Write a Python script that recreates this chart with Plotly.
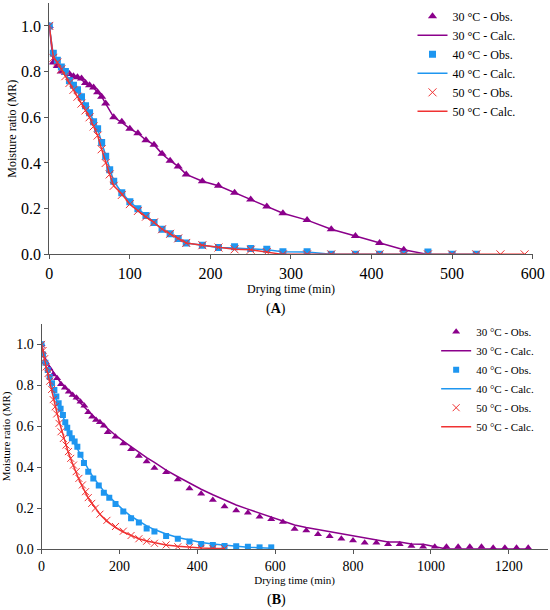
import plotly.graph_objects as go

# ---- (A) ----
t30a = [0, 5, 10, 15, 20, 25, 30, 35, 40, 45, 50, 55, 60, 65, 70, 80, 90, 100, 110, 120, 130,
        140, 150, 160, 170, 190, 210, 230, 250, 270, 290, 320, 350, 380, 410, 440, 470]
obs30a = [1.0, 0.84, 0.825, 0.80, 0.795, 0.79, 0.78, 0.775, 0.77, 0.75, 0.74, 0.73, 0.71, 0.69, 0.66,
          0.60, 0.58, 0.55, 0.53, 0.50, 0.48, 0.44, 0.41, 0.385, 0.35, 0.32, 0.30, 0.27, 0.24, 0.21,
          0.18, 0.15, 0.11, 0.08, 0.05, 0.02, 0.0]
calc30a = [1.0, 0.84, 0.825, 0.80, 0.795, 0.79, 0.78, 0.775, 0.765, 0.75, 0.74, 0.728, 0.71, 0.69, 0.66,
           0.60, 0.578, 0.55, 0.53, 0.50, 0.48, 0.44, 0.41, 0.385, 0.35, 0.32, 0.30, 0.27, 0.24, 0.21,
           0.18, 0.15, 0.11, 0.08, 0.05, 0.02, 0.0]

t40a = [0, 5, 10, 15, 20, 25, 30, 35, 40, 45, 50, 55, 60, 65, 70, 75, 80, 90, 100, 110, 120, 130,
        140, 150, 160, 170, 190, 210, 230, 250, 270, 290, 320, 350, 380, 410, 440, 470, 500, 530]
obs40a = [1.0, 0.88, 0.85, 0.82, 0.80, 0.76, 0.74, 0.72, 0.69, 0.65, 0.62, 0.58, 0.55, 0.49, 0.43, 0.37,
          0.32, 0.27, 0.23, 0.20, 0.17, 0.14, 0.11, 0.09, 0.07, 0.05, 0.04, 0.03, 0.033, 0.026, 0.022,
          0.012, 0.012, 0.0, 0.0, 0.0, 0.0, 0.01, 0.0, 0.0]
calc40a = [1.0, 0.87, 0.845, 0.815, 0.79, 0.765, 0.74, 0.715, 0.69, 0.655, 0.62, 0.585, 0.55, 0.49, 0.43,
           0.37, 0.32, 0.27, 0.23, 0.20, 0.17, 0.14, 0.11, 0.09, 0.07, 0.05, 0.04, 0.03, 0.028, 0.024,
           0.02, 0.012, 0.01, 0.0, 0.0, 0.0, 0.0, 0.0, 0.0, 0.0]

t50a = [0, 5, 10, 15, 20, 25, 30, 35, 40, 45, 50, 55, 60, 65, 70, 75, 80, 90, 100, 110, 120, 130,
        140, 150, 160, 170, 190, 210, 230, 250, 270, 290, 320, 350, 380, 410, 440, 470, 500, 530, 560, 590]
obs50a = [1.0, 0.86, 0.84, 0.81, 0.78, 0.75, 0.72, 0.69, 0.66, 0.63, 0.60, 0.56, 0.52, 0.46, 0.40, 0.35,
          0.30, 0.26, 0.22, 0.19, 0.165, 0.14, 0.11, 0.09, 0.07, 0.05, 0.04, 0.03, 0.022, 0.02, 0.01,
          0.0, 0.0, 0.0, 0.0, 0.0, 0.0, 0.0, 0.0, 0.0, 0.0, 0.0]
calc50a = [1.0, 0.865, 0.84, 0.81, 0.78, 0.75, 0.72, 0.69, 0.66, 0.63, 0.60, 0.56, 0.52, 0.46, 0.40, 0.35,
           0.30, 0.265, 0.22, 0.19, 0.163, 0.14, 0.11, 0.09, 0.07, 0.05, 0.04, 0.03, 0.022, 0.02, 0.01,
           0.0, 0.0, 0.0, 0.0, 0.0, 0.0, 0.0, 0.0, 0.0, 0.0, 0.0]

# ---- (B) ----
t30b = [0, 10, 20, 30, 40, 50, 60, 70, 80, 90, 100, 110, 120, 130, 140, 150, 160, 170,
        190, 210, 230, 250, 270, 290, 320, 350, 380, 410, 440, 470, 500, 530, 560, 590, 620, 650,
        680, 710, 740, 770, 800, 830, 860, 890, 920, 950, 980, 1010, 1040, 1070, 1100, 1130,
        1160, 1190, 1220, 1250]
obs30b = [1.0, 0.915, 0.883, 0.853, 0.834, 0.805, 0.788, 0.769, 0.752, 0.739, 0.72, 0.70, 0.668, 0.646,
          0.63, 0.619, 0.602, 0.57, 0.549, 0.516, 0.487, 0.455, 0.427, 0.396, 0.375, 0.34, 0.296,
          0.27, 0.239, 0.208, 0.188, 0.177, 0.158, 0.145, 0.132, 0.098, 0.09, 0.072, 0.062, 0.05,
          0.041, 0.031, 0.031, 0.023, 0.023, 0.015, 0.011, 0.011, 0.011, 0.011, 0.011, 0.011,
          0.006, 0.006, 0.006, 0.006]
calc30b = [1.0, 0.93, 0.895, 0.865, 0.835, 0.81, 0.79, 0.77, 0.75, 0.73, 0.71, 0.69, 0.672, 0.655,
           0.637, 0.62, 0.603, 0.587, 0.556, 0.527, 0.499, 0.472, 0.447, 0.423, 0.385, 0.353, 0.322,
           0.292, 0.265, 0.24, 0.215, 0.195, 0.175, 0.155, 0.135, 0.117, 0.105, 0.095, 0.085, 0.075,
           0.064, 0.054, 0.044, 0.034, 0.034, 0.024, 0.023, 0.012, 0.0, 0.0, 0.0, 0.0, 0.0, 0.0,
           0.0, 0.0]

t40b = [0, 4, 10, 16, 21, 27, 33, 38, 44, 49, 55, 61, 66, 72, 78, 85, 92, 100, 109, 120, 133, 147,
        160, 174, 190, 210, 230, 250, 270, 290, 320, 350, 380, 410, 440, 470, 500, 530, 560, 590]
obs40b = [1.0, 0.95, 0.91, 0.875, 0.84, 0.81, 0.777, 0.745, 0.712, 0.685, 0.655, 0.62, 0.593, 0.566,
          0.541, 0.525, 0.50, 0.46, 0.42, 0.378, 0.345, 0.31, 0.275, 0.25, 0.22, 0.183, 0.15, 0.13,
          0.10, 0.085, 0.064, 0.05, 0.037, 0.025, 0.02, 0.015, 0.013, 0.011, 0.008, 0.008]
calc40b = [1.0, 0.955, 0.905, 0.865, 0.83, 0.795, 0.76, 0.73, 0.70, 0.675, 0.645, 0.615, 0.59, 0.565,
           0.54, 0.515, 0.49, 0.46, 0.425, 0.39, 0.35, 0.313, 0.283, 0.255, 0.225, 0.19, 0.16, 0.135,
           0.113, 0.095, 0.073, 0.056, 0.043, 0.032, 0.024, 0.018, 0.013, 0.009, 0.006, 0.004]

t50b = [0, 4, 8, 12, 17, 21, 26, 30, 35, 39, 45, 50, 56, 63, 69, 75, 82, 89, 96, 105, 113, 120, 129,
        138, 150, 168, 190, 210, 230, 250, 270, 290, 320, 350, 380, 410, 440, 470]
obs50b = [1.0, 0.97, 0.93, 0.89, 0.858, 0.82, 0.78, 0.73, 0.695, 0.66, 0.614, 0.573, 0.54, 0.508,
          0.476, 0.443, 0.41, 0.378, 0.345, 0.313, 0.28, 0.251, 0.223, 0.199, 0.17, 0.14, 0.11,
          0.087, 0.066, 0.05, 0.038, 0.028, 0.02, 0.011, 0.008, 0.004, 0.003, 0.002]
calc50b = [1.0, 0.96, 0.925, 0.89, 0.85, 0.815, 0.775, 0.74, 0.70, 0.67, 0.625, 0.59, 0.55, 0.505,
           0.47, 0.44, 0.405, 0.37, 0.34, 0.305, 0.275, 0.25, 0.225, 0.2, 0.17, 0.135, 0.105, 0.083,
           0.065, 0.05, 0.039, 0.03, 0.02, 0.013, 0.008, 0.005, 0.003, 0.002]

names = ["30 °C - Obs.", "30 °C - Calc.", "40 °C - Obs.", "40 °C - Calc.", "50 °C - Obs.", "50 °C - Calc."]
purple = "#8B008B"
blue = "#1E96F0"
red = "#F03232"
FONT = "Liberation Serif"

fig = go.Figure()


def add_panel(fig, xa, ya, leg, t30, o30, c30, t40, o40, c40, t50, o50, c50, msize):
    fig.add_trace(go.Scatter(x=t30, y=o30, mode="markers", name=names[0], xaxis=xa, yaxis=ya, legend=leg,
                             marker=dict(symbol="triangle-up", size=msize, color=purple)))
    fig.add_trace(go.Scatter(x=t30, y=c30, mode="lines", name=names[1], xaxis=xa, yaxis=ya, legend=leg,
                             line=dict(color=purple, width=1.5)))
    fig.add_trace(go.Scatter(x=t40, y=o40, mode="markers", name=names[2], xaxis=xa, yaxis=ya, legend=leg,
                             marker=dict(symbol="square", size=msize - 1, color=blue)))
    fig.add_trace(go.Scatter(x=t40, y=c40, mode="lines", name=names[3], xaxis=xa, yaxis=ya, legend=leg,
                             line=dict(color=blue, width=1.5)))
    fig.add_trace(go.Scatter(x=t50, y=o50, mode="markers", name=names[4], xaxis=xa, yaxis=ya, legend=leg,
                             marker=dict(symbol="x-thin", size=msize, line=dict(color=red, width=1))))
    fig.add_trace(go.Scatter(x=t50, y=c50, mode="lines", name=names[5], xaxis=xa, yaxis=ya, legend=leg,
                             line=dict(color=red, width=1.5)))


add_panel(fig, "x", "y", "legend", t30a, obs30a, calc30a, t40a, obs40a, calc40a, t50a, obs50a, calc50a, 8)
add_panel(fig, "x2", "y2", "legend2", t30b, obs30b, calc30b, t40b, obs40b, calc40b, t50b, obs50b, calc50b, 7)

axis_style = dict(showgrid=False, zeroline=False, showline=True, linecolor="#555", linewidth=1,
                  ticks="outside", ticklen=4, tickcolor="#555", automargin=False)

fig.update_layout(
    width=550, height=610,
    margin=dict(l=0, r=0, t=0, b=0),
    plot_bgcolor="white", paper_bgcolor="white",
    font=dict(family=FONT, color="black"),
    xaxis=dict(domain=[0.0896, 0.9685], range=[0, 600], dtick=100, anchor="y",
               title=dict(text="Drying time (min)", font=dict(size=12), standoff=0),
               tickfont=dict(size=16), **axis_style),
    yaxis=dict(domain=[0.583, 0.995], range=[0, 1.1], dtick=0.2, tickformat=".1f", anchor="x",
               title=dict(text="Moisture ratio (MR)", font=dict(size=12), standoff=1),
               tickfont=dict(size=16), **axis_style),
    xaxis2=dict(domain=[0.0755, 0.9958], range=[0, 1300], dtick=200, anchor="y2",
                title=dict(text="Drying time (min)", font=dict(size=11), standoff=0),
                tickfont=dict(size=14), **axis_style),
    yaxis2=dict(domain=[0.10, 0.469], range=[0, 1.1], dtick=0.2, tickformat=".1f", anchor="x2",
                title=dict(text="Moisture ratio (MR)", font=dict(size=11), standoff=3),
                tickfont=dict(size=14), **axis_style),
    legend=dict(x=0.75, y=0.997, xanchor="left", yanchor="top", font=dict(size=12),
                bgcolor="rgba(0,0,0,0)", tracegroupgap=0),
    legend2=dict(x=0.793, y=0.48, xanchor="left", yanchor="top", font=dict(size=11),
                 bgcolor="rgba(0,0,0,0)", tracegroupgap=0),
    annotations=[
        dict(text="(<b>A</b>)", x=0.502, y=0.4934, xref="paper", yref="paper", showarrow=False,
             yanchor="middle", font=dict(size=14)),
        dict(text="(<b>B</b>)", x=0.502, y=0.0164, xref="paper", yref="paper", showarrow=False,
             yanchor="middle", font=dict(size=14)),
    ],
)

# the page body has an 8px default margin, drop it so the figure sits at the window corner
fig.write_html("out.html", config={"displayModeBar": False},
               post_script="document.body.style.margin='0px';")
